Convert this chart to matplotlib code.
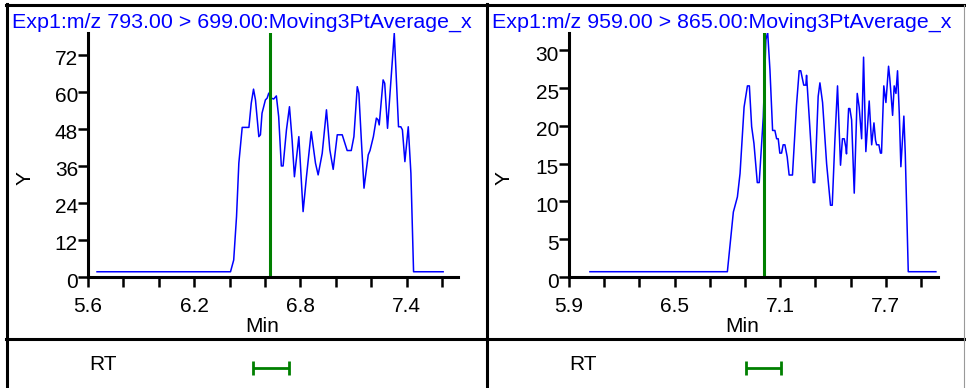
import numpy as np
import matplotlib
matplotlib.use("Agg")
import matplotlib.pyplot as plt
import matplotlib.transforms as mtrans
from matplotlib.lines import Line2D

plt.rcParams['font.family'] = ['Liberation Sans', 'DejaVu Sans']

W, H = 966, 388

# trace 1 : m/z 793 > 699
time1 = [5.651, 6.405, 6.423, 6.439, 6.452, 6.471, 6.509, 6.522, 6.535, 6.546,
         6.565, 6.574, 6.583, 6.602, 6.612, 6.621, 6.634, 6.649, 6.664, 6.677,
         6.692, 6.702, 6.721, 6.738, 6.753, 6.766, 6.791, 6.815, 6.834, 6.861,
         6.885, 6.900, 6.923, 6.947, 6.966, 6.985, 7.008, 7.036, 7.064, 7.087,
         7.102, 7.121, 7.130, 7.144, 7.159, 7.183, 7.193, 7.212, 7.229, 7.238,
         7.245, 7.267, 7.276, 7.292, 7.330, 7.354, 7.367, 7.376, 7.390, 7.409,
         7.424, 7.439, 7.606]
inten1 = [1.7, 1.7, 5.5, 19.6, 36.9, 48.5, 48.5, 56.3, 60.9, 57.4,
          45.5, 46.1, 53.1, 57.4, 58.0, 59.6, 58.0, 57.7, 58.7, 52.0,
          36.0, 36.0, 47.7, 55.2, 44.4, 32.5, 45.5, 21.2, 32.5, 47.1,
          36.9, 33.1, 40.1, 54.2, 41.2, 34.9, 46.1, 46.1, 41.0, 41.0,
          45.5, 61.7, 59.6, 44.4, 28.8, 39.6, 41.0, 45.5, 51.5, 51.0,
          49.3, 63.9, 62.8, 48.2, 79.0, 48.7, 48.7, 47.7, 37.4, 48.7,
          33.6, 1.7, 1.7]

# trace 2 : m/z 959 > 865
time2 = [6.019, 6.800, 6.834, 6.857, 6.872, 6.895, 6.914, 6.925, 6.938, 6.951,
         6.970, 6.981, 7.004, 7.019, 7.029, 7.042, 7.057, 7.070, 7.080, 7.089,
         7.098, 7.108, 7.117, 7.127, 7.140, 7.151, 7.170, 7.193, 7.208, 7.217,
         7.234, 7.246, 7.250, 7.265, 7.288, 7.297, 7.316, 7.326, 7.341, 7.364,
         7.386, 7.396, 7.411, 7.426, 7.443, 7.454, 7.464, 7.473, 7.477, 7.489,
         7.496, 7.506, 7.521, 7.538, 7.549, 7.563, 7.574, 7.587, 7.606, 7.620,
         7.633, 7.642, 7.648, 7.661, 7.670, 7.676, 7.689, 7.701, 7.716, 7.723,
         7.739, 7.748, 7.758, 7.767, 7.777, 7.786, 7.803, 7.811, 7.828, 7.985]
inten2 = [0.7, 0.7, 8.6, 10.6, 13.7, 22.5, 25.3, 25.3, 19.9, 17.7,
          12.5, 12.5, 21.2, 31.4, 32.4, 27.4, 19.4, 19.4, 18.3, 18.3,
          16.4, 16.4, 17.5, 17.5, 15.9, 13.5, 13.5, 22.8, 27.3, 27.3,
          25.4, 25.4, 26.7, 21.2, 12.5, 12.5, 23.9, 25.7, 23.1, 15.0,
          9.5, 9.5, 18.1, 25.3, 14.8, 18.3, 18.3, 17.2, 16.3, 22.3,
          22.3, 20.8, 11.1, 24.3, 22.5, 18.3, 29.1, 16.6, 23.3, 17.5,
          20.4, 18.1, 17.5, 17.5, 16.4, 16.4, 25.3, 23.1, 27.9, 26.3,
          21.4, 25.3, 24.3, 27.3, 21.6, 14.6, 21.3, 16.3, 0.7, 0.7]

titles = ["Exp1:m/z 793.00 > 699.00:Moving3PtAverage_x",
          "Exp1:m/z 959.00 > 865.00:Moving3PtAverage_x"]
rt_marker = [6.63, 7.008]
rt_center = [6.634, 7.006]
rt_halfwidth = [0.1, 0.1]
xticks = [[5.6 + 0.2 * i for i in range(11)], [5.9 + 0.2 * i for i in range(11)]]
xticklabels = [["5.6", "", "", "6.2", "", "", "6.8", "", "", "7.4", ""],
               ["5.9", "", "", "6.5", "", "", "7.1", "", "", "7.7", ""]]
yticks = [[0, 12, 24, 36, 48, 60, 72], [0, 5, 10, 15, 20, 25, 30]]
xlims = [(5.6, 7.69), (5.9, 7.997)]
ylims = [(0, 79.1), (0, 32.3)]

FS = 15


def fx(px):
    return px / W


def fy(py):
    return 1 - py / H


fig = plt.figure(figsize=(W / 100, H / 100), dpi=100)

panels = [
    dict(x0=88, x1=458, ylab=25, minx=262, rtx=89, title_x=12),
    dict(x0=569, x1=938, ylab=504, minx=742, rtx=569, title_x=492),
]
series = [(time1, inten1), (time2, inten2)]
shift_down = mtrans.ScaledTranslation(0, -3 / 100, fig.dpi_scale_trans)

for i, p in enumerate(panels):
    ax = fig.add_axes([fx(p['x0']), fy(277), fx(p['x1'] - p['x0']), (277 - 33) / H])
    t, v = series[i]
    ax.plot(t, v, color='blue', lw=1.1)
    ax.axvline(rt_marker[i], color='green', lw=2.2)
    ax.set_xlim(*xlims[i])
    ax.set_ylim(*ylims[i])
    ax.set_xticks(xticks[i])
    ax.set_xticklabels(xticklabels[i])
    ax.set_yticks(yticks[i])
    ax.set_yticklabels([str(y) for y in yticks[i]])
    for s in ['top', 'right']:
        ax.spines[s].set_visible(False)
    for s in ['left', 'bottom']:
        ax.spines[s].set_linewidth(2.2)
    ax.tick_params(axis='both', length=7.2, width=1.8, labelsize=FS, direction='out')
    ax.tick_params(axis='y', pad=0)
    ax.tick_params(axis='x', pad=7)
    for lab in ax.get_yticklabels():
        lab.set_transform(lab.get_transform() + shift_down)
    ax.patch.set_alpha(0)

    fig.text(fx(p['title_x']), fy(28), titles[i], color='blue', fontsize=15.4,
             va='baseline', ha='left')
    fig.text(fx(p['ylab']), fy(178), "Y", rotation=90, fontsize=FS,
             ha='center', va='center')
    fig.text(fx(p['minx']), fy(327), "Min", fontsize=FS, ha='center', va='center')

    # RT row
    bx = fig.add_axes([fx(p['x0']), 0, fx(p['x1'] - p['x0']), 49 / H])
    bx.set_xlim(*xlims[i])
    bx.set_ylim(0, 1)
    bx.errorbar([rt_center[i]], [0.408], xerr=[rt_halfwidth[i]], color='green',
                lw=2, capsize=4.7, capthick=2, fmt='none')
    bx.axis('off')
    fig.text(fx(p['rtx']), fy(365), "RT", fontsize=FS, ha='left', va='center')

# frame lines
def fline(xs, ys, color='black', lw=2.2):
    fig.add_artist(Line2D([fx(x) for x in xs], [fy(y) for y in ys],
                          transform=fig.transFigure, color=color, lw=lw))

fline([6, 964], [5, 5])
fline([7, 7], [4, 388])
fline([487, 487], [4, 388])
fline([6, 966], [339, 339])
fline([963.5, 963.5], [5, 388], color='#999999', lw=0.8)

fig.savefig("out.png", dpi=100)
